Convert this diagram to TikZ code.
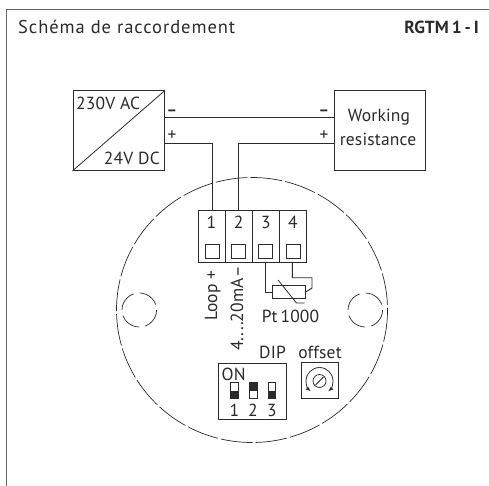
\documentclass[tikz,border=0pt]{standalone}
\usepackage{fontspec}
\setmainfont{PT Sans}
\newfontfamily\spaced[LetterSpace=5.2]{PT Sans}
\newfontfamily\tight[LetterSpace=1]{PT Sans}
\usetikzlibrary{arrows.meta}
\definecolor{ink}{HTML}{2A2A2A}
\tikzset{
  x=1pt,y=-1pt,
  wire/.style={line width=0.9pt,draw=ink},
  thinl/.style={line width=0.8pt,draw=ink},
  frameline/.style={line width=1.4pt,draw=black!60},
  dash outline/.style={line width=0.7pt,draw=ink,dash pattern=on 32pt off 3pt},
  smalldash/.style={line width=0.7pt,draw=ink,dash pattern=on 21pt off 6pt},
  txt/.style={text=ink,font=\tight\fontsize{17.5}{17.5}\selectfont,inner sep=0pt,anchor=base},
  polarity/.style={text=ink,font=\bfseries\fontsize{16}{16}\selectfont,inner sep=0pt,anchor=base},
  terminal/.style={draw=ink,line width=0.8pt,minimum width=14pt,minimum height=14pt,inner sep=0pt},
  switchbody/.style={draw=ink,line width=0.8pt,fill=white},
}
\begin{document}
\begin{tikzpicture}
\useasboundingbox (0,0) rectangle (489,486);
\draw[frameline] (6.5,486) |- (489,9.5);
\node[txt,anchor=base west,font=\spaced\fontsize{18.5}{18.5}\selectfont] (title) at (18,34) {Schéma de raccordement};
\node[txt,anchor=base east,font=\bfseries\fontsize{17.5}{17.5}\selectfont] (model) at (479,34) {RGTM\,1\,-\,I};

% housing
\draw[dash outline] (252,310) ellipse [x radius=135.5,y radius=132.5];
\draw[smalldash] (139.3,310) ellipse [x radius=17.3,y radius=17];
\draw[smalldash] (365.3,310) ellipse [x radius=17.3,y radius=17];

% boxes
\node[draw=ink,line width=0.9pt,minimum width=91.5pt,minimum height=79.5pt,inner sep=0pt,anchor=north west] (psu) at (72.5,90.5) {};
\draw[thinl] (psu.south west) -- (psu.north east);
\node[txt,anchor=base west] (ac) at (76,110) {230V AC};
\node[txt,anchor=base east] (dc) at (160,165) {24V DC};
\node[draw=ink,line width=0.9pt,minimum width=91.5pt,minimum height=79.5pt,inner sep=0pt,anchor=north west] (res) at (333.5,90.5) {};
\node[txt] (wk) at (379,122) {Working};
\node[txt] (rs) at (378,146) {resistance};
\node[polarity] (m1) at (172,116) {–};
\node[txt] (p1) at (172,141) {+};
\node[polarity] (m2) at (324,116) {–};
\node[txt] (p2) at (324,141) {+};

% terminal block
\draw[wire] (198,210.7) rectangle (306,262.7);
\foreach \xx in {225,252.3,279} \draw[wire] (\xx,210.7) -- (\xx,262.7);
\node[terminal] (t1) at (212,251) {};
\node[terminal] (t2) at (238.7,251) {};
\node[terminal] (t3) at (265.8,251) {};
\node[terminal] (t4) at (293,251) {};
\node[txt] at (211.5,229) {1};
\node[txt] at (238.7,229) {2};
\node[txt] at (265.8,229) {3};
\node[txt] at (293,229) {4};
\coordinate (t1top) at (212.7,210.7);
\coordinate (t2top) at (238.7,210.7);

% connectors
\draw[wire] (164,117.5) -- (333.5,117.5);
\draw[wire] (164,143.5) -| (t1top);
\draw[wire] (333.5,143.5) -| (t2top);

% resistor
\node[draw=ink,line width=0.9pt,minimum width=32.7pt,minimum height=13.3pt,inner sep=0pt,anchor=north west] (pt) at (272,285) {};
\coordinate (t3b) at (265.7,262.7);
\coordinate (t4b) at (292.3,262.7);
\draw[wire] (t3b) |- (pt.west);
\draw[wire] (t4b) |- (312,277.7) -- (312,288) -- (pt.east);
\draw[thinl] (278,280) -- (296.5,303) -- (304.5,303);
\node[txt] (ptl) at (290.5,322) {Pt\,1000};

\node[txt,rotate=90,anchor=base west] (loop) at (217,321) {Loop +};
\node[txt,rotate=90,anchor=base west] (ma) at (243,351) {4....20mA};
\node[txt,rotate=90] (maminus) at (243,272) {–};

% DIP
\node[txt] (dip) at (272.5,358) {DIP};
\node[txt] (off) at (320,358) {offset};
\node[draw=ink,line width=0.9pt,minimum width=68pt,minimum height=56.6pt,inner sep=0pt,anchor=north west] (dipbox) at (218.3,362.7) {};
\node[txt,anchor=base west] (on) at (221.5,380.5) {ON};
\foreach \xx/\yy/\hh in {230.3/390.7/8,249.3/382.7/8,268/390.7/8}{
  \draw[switchbody] (\xx,382.7) rectangle ++(7.6,16);
  \fill[ink] (\xx,\yy) rectangle ++(7.6,\hh);
}
\node[txt] at (234.5,416.5) {1};
\node[txt] at (253,416.5) {2};
\node[txt] at (272,416.5) {3};

% offset
\node[draw=ink,line width=0.9pt,minimum width=36.4pt,minimum height=36pt,inner sep=0pt,anchor=north west] (offbox) at (301.3,362.3) {};
\node[draw=ink,circle,line width=0.7pt,minimum size=13pt,inner sep=0pt] (pot) at (319.5,381) {};
\draw[thinl] (315.5,385) -- (323.5,377);
\draw[thinl,-{Latex[length=5pt,width=4pt]}] (319.5,367.5) arc[start angle=-90,end angle=50,radius=13.5];
\draw[thinl,-{Latex[length=5pt,width=4pt]}] (319.5,367.5) arc[start angle=-90,end angle=-230,radius=13.5];
\end{tikzpicture}
\end{document}
